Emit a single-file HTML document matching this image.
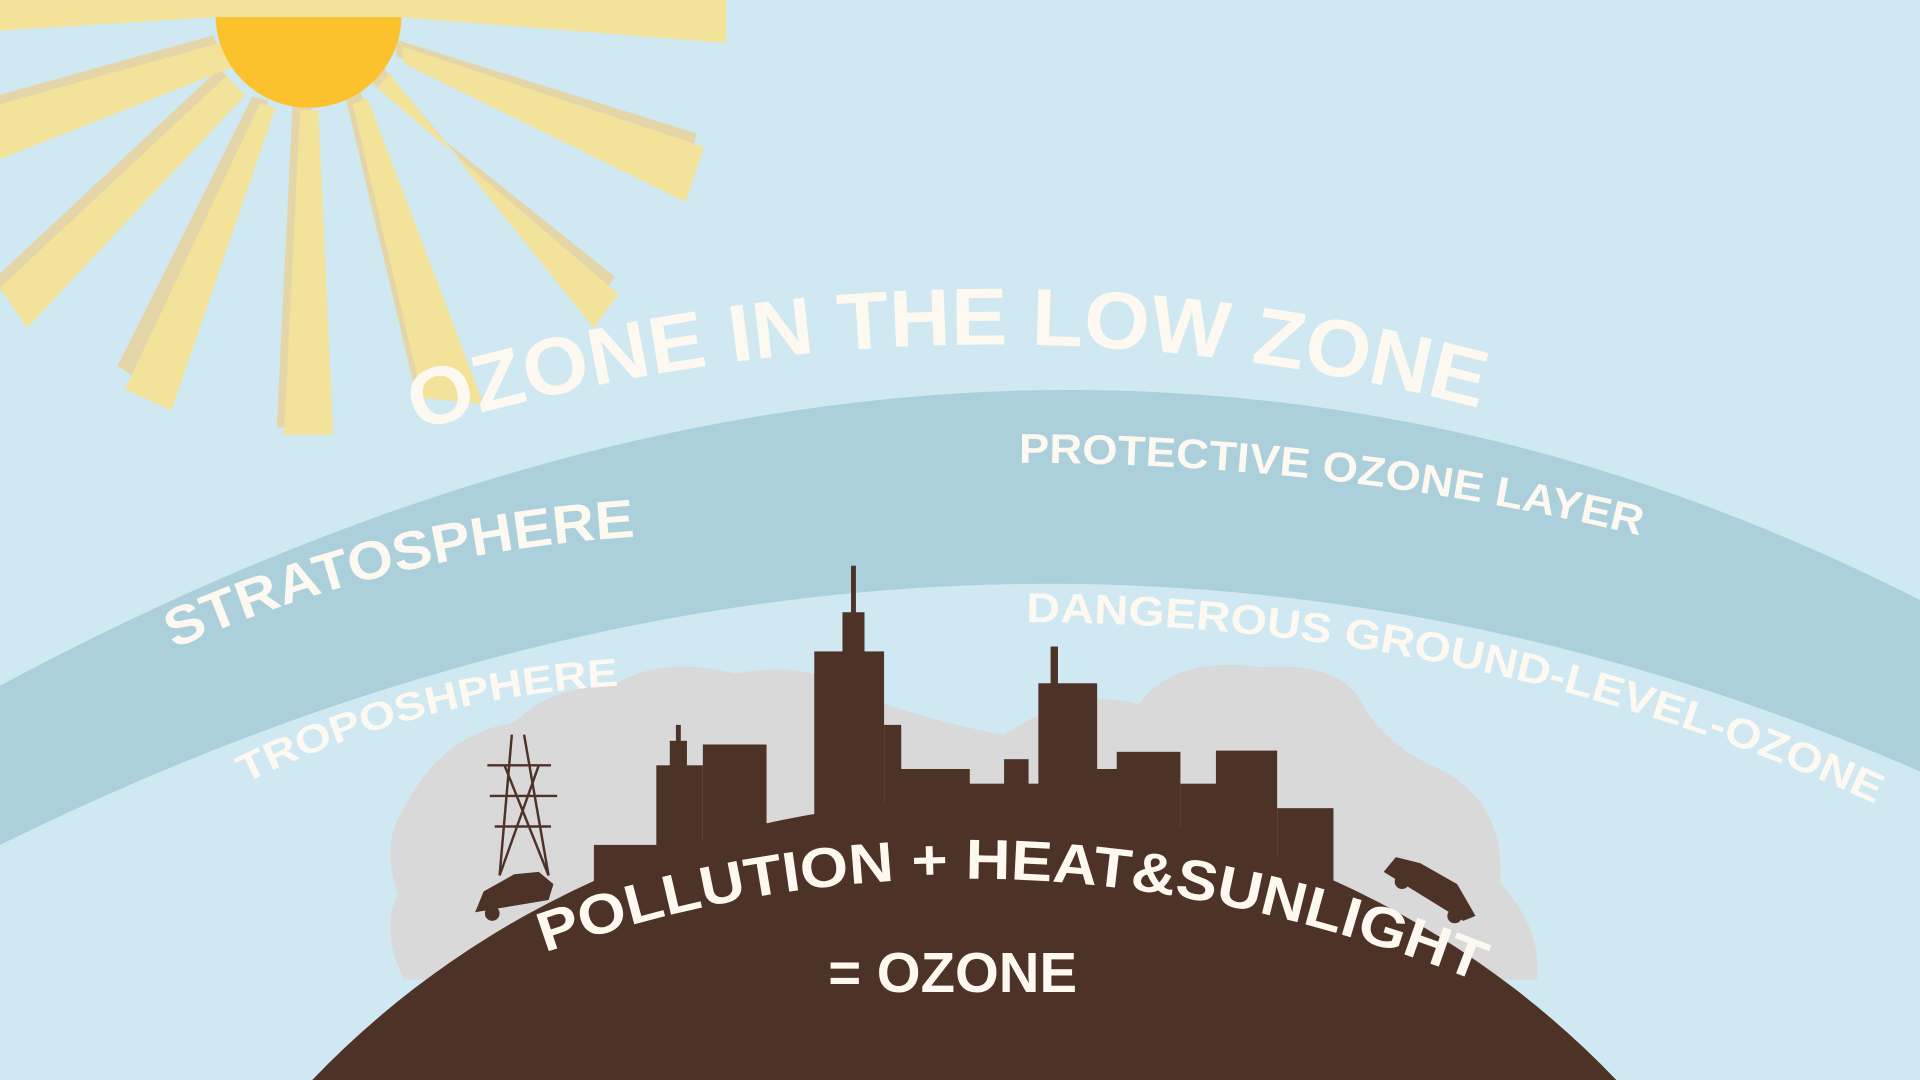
<!DOCTYPE html>
<html><head><meta charset="utf-8"><style>
html,body{margin:0;padding:0;width:1920px;height:1080px;overflow:hidden;background:#cfe8f1}
svg{display:block}
text{font-family:"Liberation Sans",sans-serif;font-weight:bold;fill:#fdf9f0}
</style></head><body>
<svg width="1920" height="1080" viewBox="0 0 1568 882" preserveAspectRatio="none">
<defs>
<path id="p-title" d="M 340 352 Q 790 218 1225 338"/>
<path id="p-strat" d="M 142 530 Q 320 450 525 438"/>
<path id="p-prot" d="M 832 378 Q 1100 378 1350 440"/>
<path id="p-trop" d="M 200 640 Q 340 570 505 560"/>
<path id="p-dang" d="M 838 508 Q 1230 510 1560 670"/>
<path id="p-poll" d="M 445 778 Q 820 645 1215 805"/>
</defs>
<rect width="1568" height="882" fill="#cfe8f1"/>
<g>
 <g fill="#e4d6a8" transform="translate(-6,-6)">
  <polygon points="0,85 180,35 190,55 0,130"/>
  <polygon points="0,235 185,62 200,78 22,262"/>
  <polygon points="102,305 212,85 225,88 138,328"/>
  <polygon points="232,355 245,90 260,90 272,355"/>
  <polygon points="345,325 288,85 300,80 395,320"/>
  <polygon points="508,232 308,72 318,60 488,262"/>
  <polygon points="575,115 328,38 330,52 560,165"/>
 </g>
 <g fill="#f3e29a">
  <polygon points="0,0 593,0 593,35 325,14 176,14 0,25"/>
  <polygon points="0,85 180,35 190,55 0,130"/>
  <polygon points="0,235 185,62 200,78 22,268"/>
  <polygon points="102,318 212,85 225,88 140,335"/>
  <polygon points="232,355 245,90 260,90 272,355"/>
  <polygon points="345,325 288,85 300,80 395,330"/>
  <polygon points="505,240 308,72 318,60 485,268"/>
  <polygon points="575,120 328,38 330,52 560,165"/>
 </g>
</g>
<path d="M 176 12 A 76 76 0 0 0 328 12 Z" fill="#fbc22e"/>
<rect x="176" y="0" width="152" height="14" fill="#f3e29a"/>
<path d="M 0 560 Q 830 115 1568 490 L 1568 630 Q 800 296 0 690 Z" fill="#abcfdb"/>
<path d="M 330 660 Q 360 600 420 590 Q 450 560 500 560 Q 540 535 600 550 Q 660 540 680 560 Q 760 590 820 600 Q 880 560 930 575 Q 960 535 1030 545 Q 1090 540 1110 570 Q 1130 610 1180 630 Q 1230 660 1225 720 Q 1260 760 1255 800 L 330 800 Q 310 760 325 730 Q 310 690 330 660 Z" fill="#d9d9d9"/>
<g fill="#4d3227">
 <rect x="665" y="532" width="57" height="160"/><rect x="688" y="500" width="18" height="40"/><rect x="695" y="462" width="4" height="45"/>
 <rect x="722" y="592" width="14" height="100"/><rect x="735" y="628" width="57" height="64"/>
 <rect x="790" y="640" width="60" height="50"/><rect x="820" y="620" width="20" height="30"/>
 <rect x="848" y="558" width="48" height="130"/><rect x="858" y="528" width="6" height="35"/>
 <rect x="895" y="628" width="18" height="60"/><rect x="912" y="614" width="52" height="80"/>
 <rect x="964" y="640" width="30" height="60"/><rect x="993" y="613" width="50" height="90"/>
 <rect x="1043" y="660" width="46" height="60"/><rect x="574" y="608" width="52" height="100"/>
 <rect x="536" y="625" width="38" height="90"/><rect x="547" y="605" width="14" height="25"/><rect x="552" y="592" width="4" height="15"/>
 <rect x="485" y="690" width="55" height="40"/>
</g>
<path d="M 255 882 A 737 737 0 0 1 1320 882 Z" fill="#4d3227"/>
<g stroke="#4d3227" stroke-width="2" fill="none">
 <path d="M 418 600 L 408 715 M 428 600 L 448 715 M 398 625 L 450 625 M 400 650 L 455 650 M 404 675 L 450 675 M 408 715 L 440 625 M 448 715 L 412 625"/>
</g>
<g fill="#4d3227"><path d="M 388 745 L 395 728 L 420 714 L 440 712 L 452 722 L 448 735 Z"/><circle cx="402" cy="746" r="6"/><circle cx="440" cy="730" r="6"/></g>
<g fill="#4d3227"><path d="M 1130 712 L 1140 700 L 1160 705 L 1190 722 L 1205 748 L 1195 752 Z"/><circle cx="1145" cy="720" r="6"/><circle cx="1188" cy="748" r="6"/></g>
<text font-size="66"><textPath href="#p-title" textLength="880" lengthAdjust="spacingAndGlyphs">OZONE IN THE LOW ZONE</textPath></text>
<text font-size="44"><textPath href="#p-strat" textLength="390" lengthAdjust="spacingAndGlyphs">STRATOSPHERE</textPath></text>
<text font-size="34"><textPath href="#p-prot" textLength="512" lengthAdjust="spacingAndGlyphs">PROTECTIVE OZONE LAYER</textPath></text>
<text font-size="32"><textPath href="#p-trop" textLength="318" lengthAdjust="spacingAndGlyphs">TROPOSHPHERE</textPath></text>
<text font-size="34"><textPath href="#p-dang" textLength="715" lengthAdjust="spacingAndGlyphs">DANGEROUS GROUND-LEVEL-OZONE</textPath></text>
<text font-size="46"><textPath href="#p-poll" textLength="780" lengthAdjust="spacingAndGlyphs">POLLUTION + HEAT&amp;SUNLIGHT</textPath></text>
<text x="778" y="810" font-size="46" text-anchor="middle">= OZONE</text>
</svg>
</body></html>
